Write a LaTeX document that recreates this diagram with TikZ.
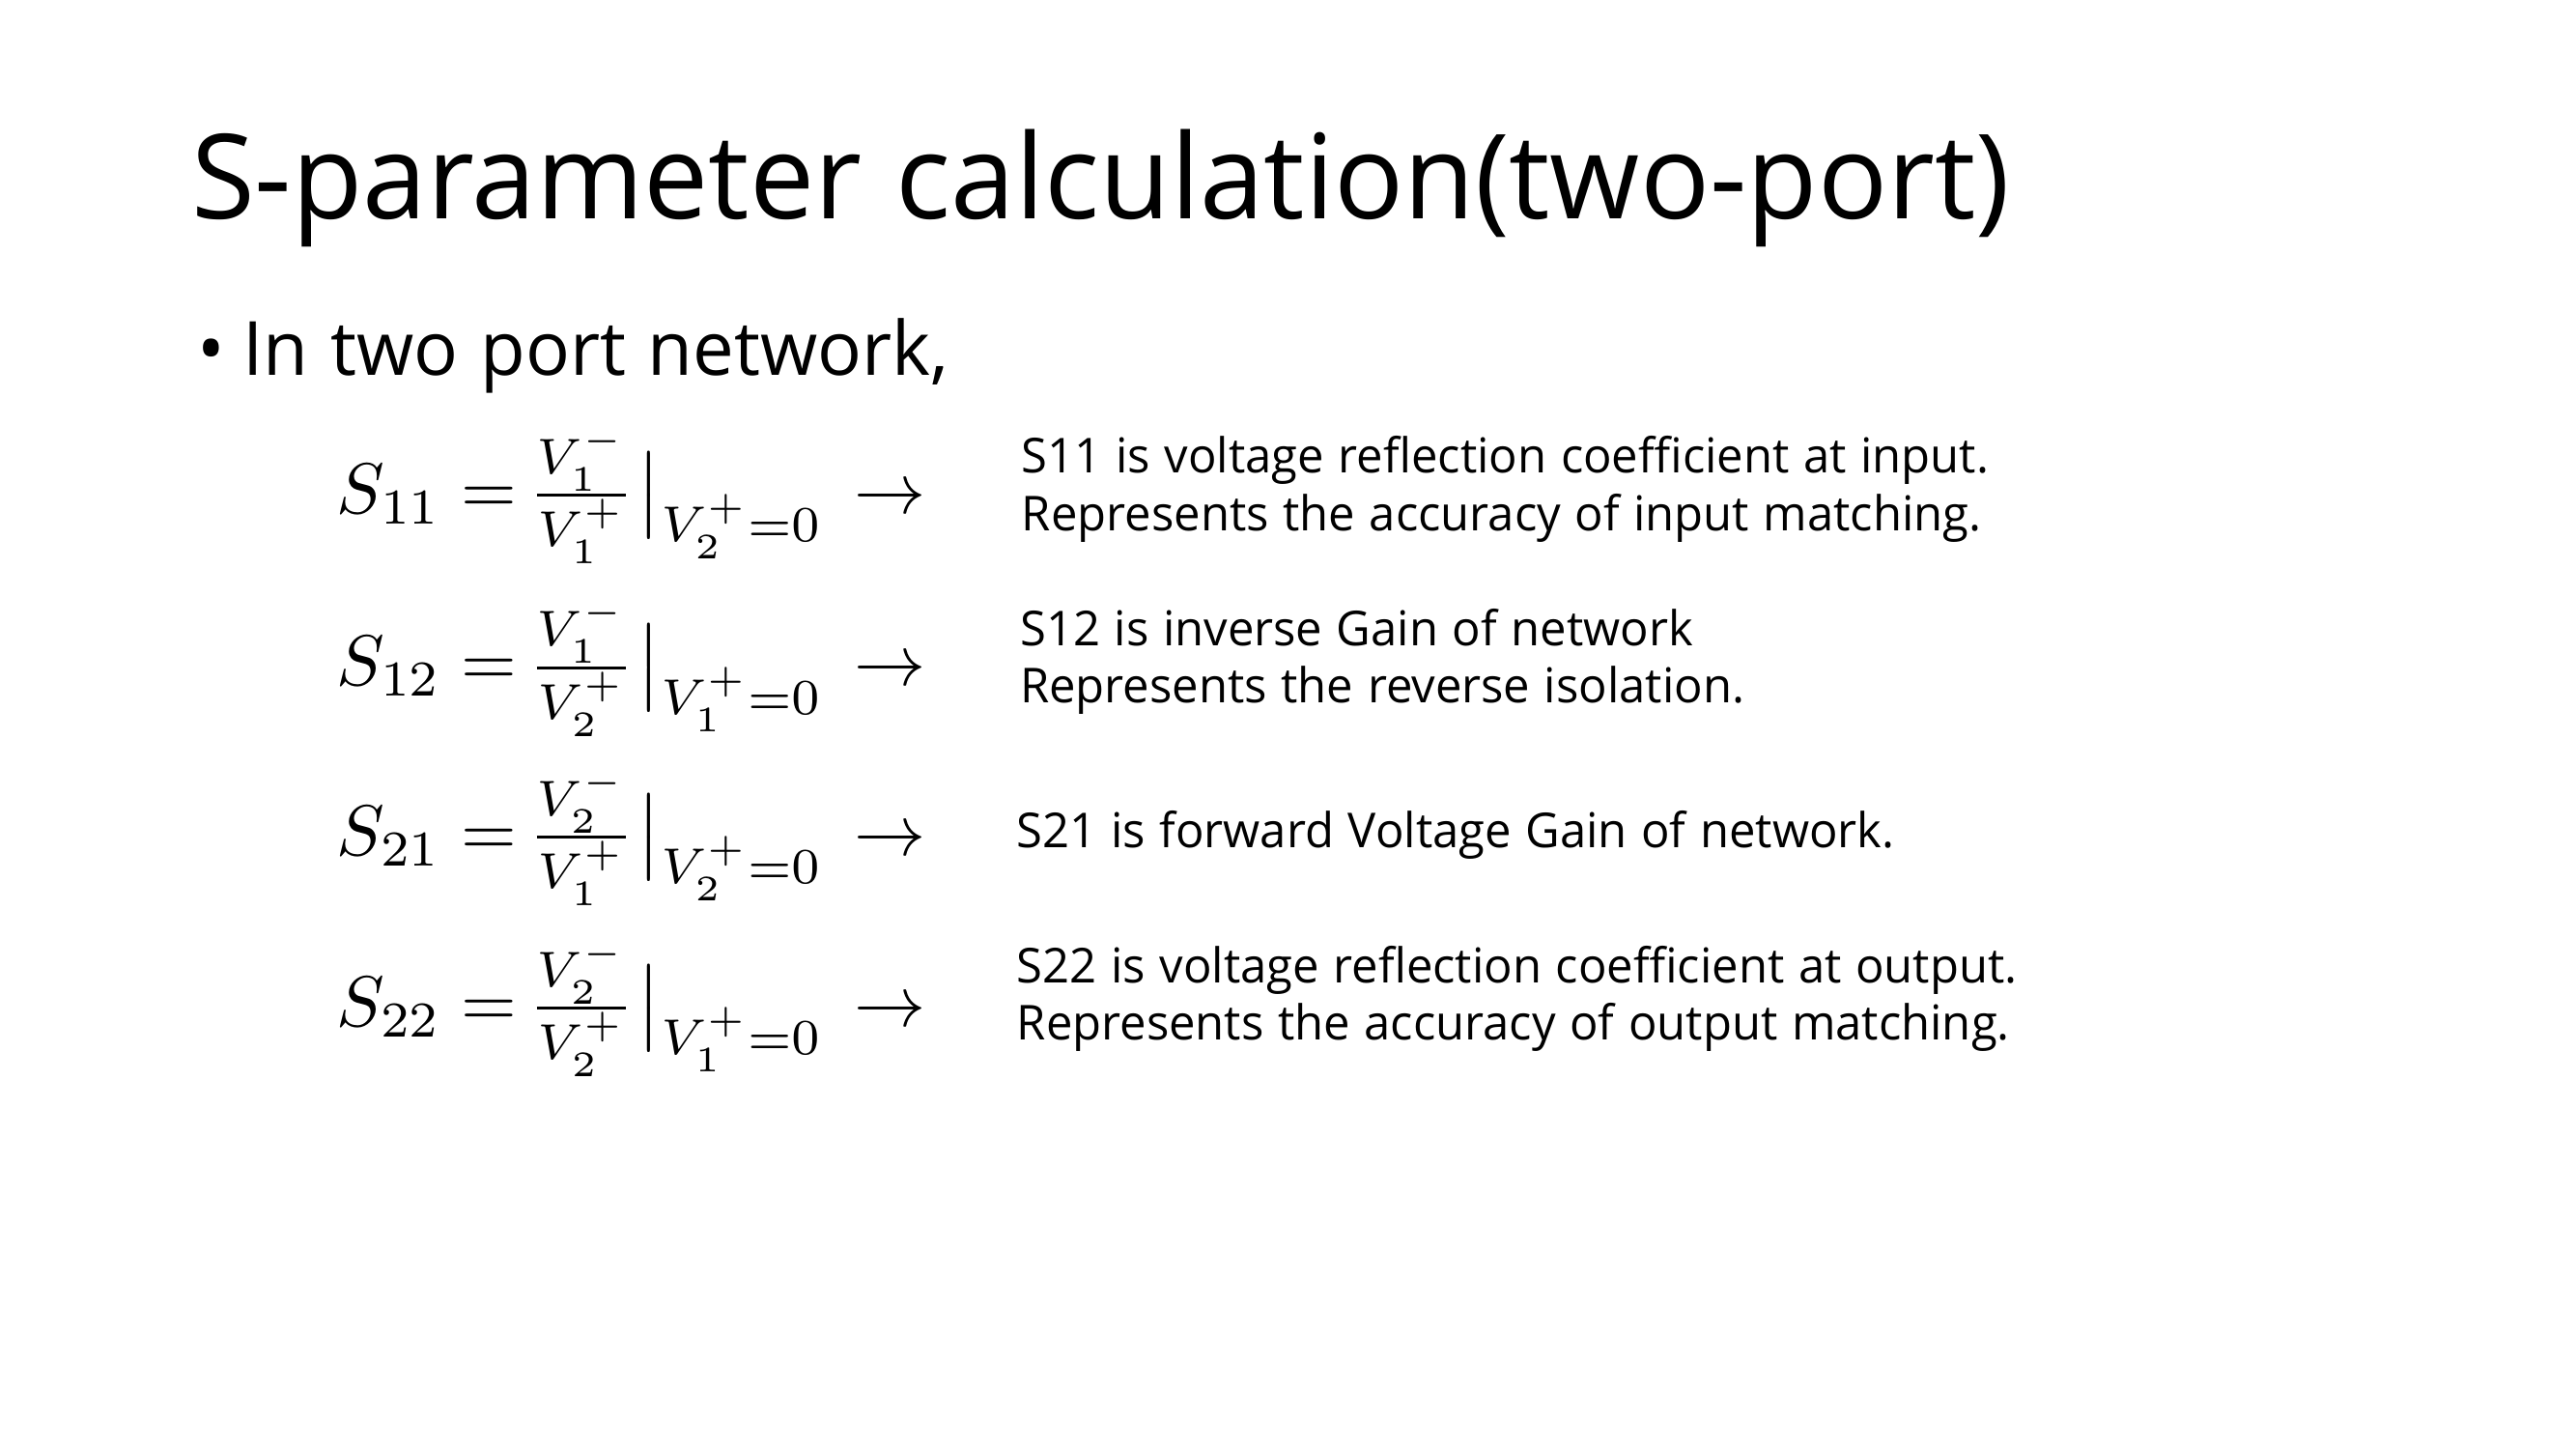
\documentclass[tikz,border=0pt]{standalone}
\usepackage{graphicx}
\usepackage[no-math]{fontspec}
\setmainfont[WordSpace=1.15,FakeStretch=0.983]{Open Sans}
\newcommand{\bigeq}[1]{\scalebox{2.68}{\nulldelimiterspace=0pt$#1$}}
\begin{document}
\begin{tikzpicture}[x=1in,y=1in,
  every node/.style={inner sep=0pt, outer sep=0pt, anchor=base west},
  titletext/.style={font=\fontsize{44}{53}\selectfont},
  bullettext/.style={font=\fontsize{28}{34}\selectfont},
  eqtext/.style={font=\normalsize},
  desctext/.style={font=\fontsize{18}{22}\selectfont}]
\fill[white] (0,0) rectangle (13.333,-7.5);
\useasboundingbox (0,0) rectangle (13.333,-7.5);
% title
\node[titletext] (title) at (0.99,-1.13) {S-parameter calculation(two-port)};
% bullet
\node[bullettext] (bul) at (1.02,-1.94) {\textbullet};
\node[bullettext] (intro) at (1.258,-1.94) {In two port network,};
% equations
\node[eqtext] (eq11) at (1.743,-2.655) {\bigeq{S_{11}=\frac{V_1^-}{V_1^+}\,\big|_{V_2^+=0}}};
\node[eqtext] (eq12) at (1.743,-3.548) {\bigeq{S_{12}=\frac{V_1^-}{V_2^+}\,\big|_{V_1^+=0}}};
\node[eqtext] (eq21) at (1.743,-4.425) {\bigeq{S_{21}=\frac{V_2^-}{V_1^+}\,\big|_{V_2^+=0}}};
\node[eqtext] (eq22) at (1.743,-5.31) {\bigeq{S_{22}=\frac{V_2^-}{V_2^+}\,\big|_{V_1^+=0}}};
% arrows
\node[eqtext] (ar11) at (4.42,-2.655) {\bigeq{\rightarrow}};
\node[eqtext] (ar12) at (4.42,-3.548) {\bigeq{\rightarrow}};
\node[eqtext] (ar21) at (4.42,-4.425) {\bigeq{\rightarrow}};
\node[eqtext] (ar22) at (4.42,-5.31) {\bigeq{\rightarrow}};
% descriptions
\node[desctext] (d11a) at (5.289,-2.449) {S11 is voltage reflection coefficient at input.};
\node[desctext] (d11b) at (5.289,-2.746) {Represents the accuracy of input matching.};
\node[desctext] (d12a) at (5.28,-3.342) {S12 is inverse Gain of network};
\node[desctext] (d12b) at (5.28,-3.639) {Represents the reverse isolation.};
\node[desctext] (d21a) at (5.263,-4.388) {S21 is forward Voltage Gain of network.};
\node[desctext] (d22a) at (5.263,-5.085) {S22 is voltage reflection coefficient at output.};
\node[desctext] (d22b) at (5.263,-5.38) {Represents the accuracy of output matching.};
\end{tikzpicture}
\end{document}
